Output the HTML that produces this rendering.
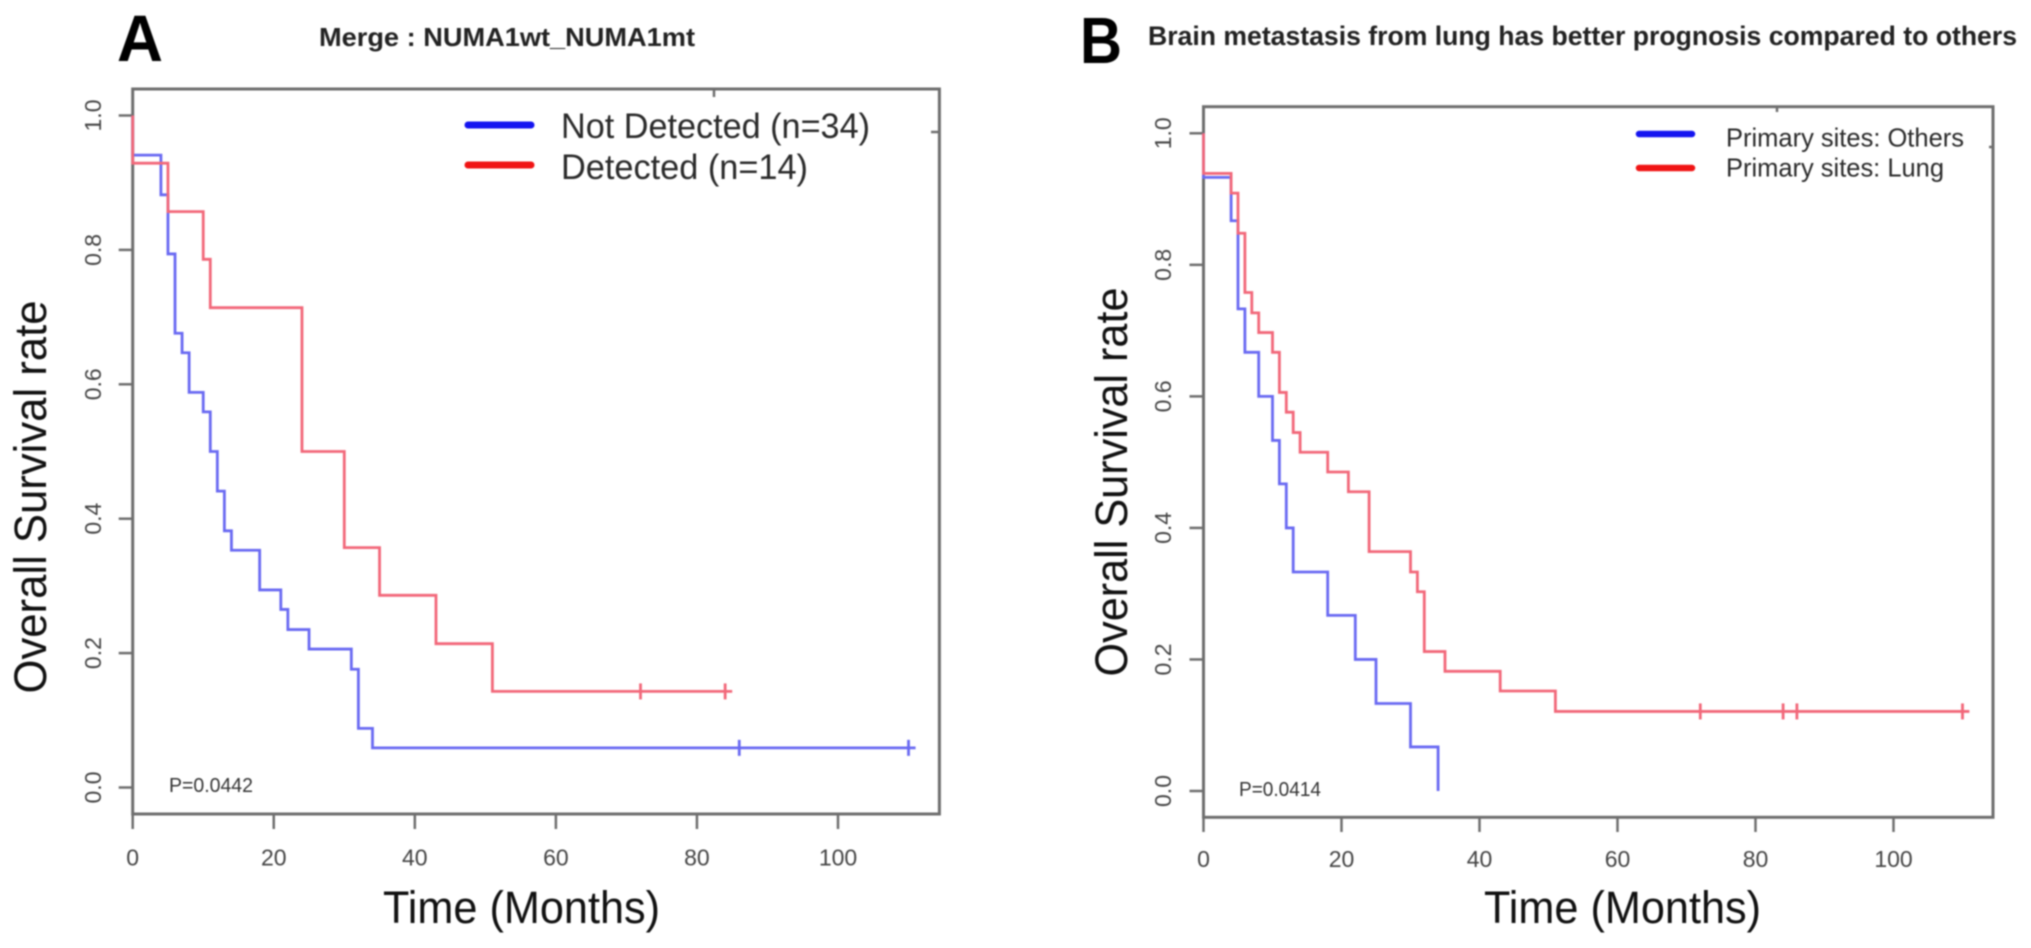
<!DOCTYPE html>
<html lang="en">
<head>
<meta charset="utf-8">
<title>Kaplan-Meier survival curves</title>
<style>
html,body{margin:0;padding:0;background:#fff;}
body{width:2031px;height:948px;overflow:hidden;}
svg{display:block;filter:blur(0.8px);}
text{font-family:"Liberation Sans",sans-serif;}
.frame{fill:none;stroke:#6e6e6e;stroke-width:3;}
.tick{stroke:#6e6e6e;stroke-width:2.5;fill:none;}
.ticklabel{font-size:23px;fill:#444;}
.axis-title{font-size:45px;fill:#111;}
.ptext{font-size:20px;fill:#333;}
.legend-text{fill:#2a2a2a;}
.curve{fill:none;stroke-width:2.8;stroke-linejoin:miter;}
.blue{stroke:#6a6af2;}
.red{stroke:#f2687a;}
</style>
</head>
<body>
<svg id="fig" width="2031" height="948" viewBox="0 0 2031 948" xmlns="http://www.w3.org/2000/svg">
  <text x="117" y="61" font-size="66" font-weight="bold" fill="#000" textLength="46" lengthAdjust="spacingAndGlyphs">A</text>
  <text x="319" y="46" font-size="26" font-weight="bold" fill="#222" textLength="376" lengthAdjust="spacingAndGlyphs">Merge : NUMA1wt_NUMA1mt</text>
  <text x="1080" y="63" font-size="65" font-weight="bold" fill="#000" textLength="42" lengthAdjust="spacingAndGlyphs">B</text>
  <text x="1148" y="45" font-size="27" font-weight="bold" fill="#222" textLength="869" lengthAdjust="spacingAndGlyphs">Brain metastasis from lung has better prognosis compared to others</text>

  <g id="panel-a">
    <rect class="frame" x="132.7" y="89" width="806.7" height="725"/>
    <path class="tick" d="M714 89V97M939 132H931"/>
    <text class="axis-title" transform="translate(46 497) rotate(-90)" text-anchor="middle" textLength="393" lengthAdjust="spacingAndGlyphs">Overall Survival rate</text>
    <text class="axis-title" x="521.5" y="923" text-anchor="middle" textLength="277" lengthAdjust="spacingAndGlyphs">Time (Months)</text>
    <text class="ptext" x="169" y="792" textLength="84" lengthAdjust="spacingAndGlyphs">P=0.0442</text>
    <g>
      <line x1="468" y1="125" x2="531" y2="125" stroke="#1414f0" stroke-width="7" stroke-linecap="round"/>
      <line x1="468" y1="165" x2="531" y2="165" stroke="#f01414" stroke-width="7" stroke-linecap="round"/>
      <text class="legend-text" x="561" y="138" font-size="35" textLength="309" lengthAdjust="spacingAndGlyphs">Not Detected (n=34)</text>
      <text class="legend-text" x="561" y="179" font-size="35" textLength="247" lengthAdjust="spacingAndGlyphs">Detected (n=14)</text>
    </g>
  </g>

  <g id="panel-b">
    <rect class="frame" x="1203.5" y="106.7" width="789.5" height="710.6"/>
    <path class="tick" d="M1777 107V112M1993 147H1989"/>
    <text class="axis-title" transform="translate(1127 482) rotate(-90)" text-anchor="middle" textLength="389" lengthAdjust="spacingAndGlyphs">Overall Survival rate</text>
    <text class="axis-title" x="1622.5" y="923" text-anchor="middle" textLength="277" lengthAdjust="spacingAndGlyphs">Time (Months)</text>
    <text class="ptext" x="1239" y="796" textLength="82" lengthAdjust="spacingAndGlyphs">P=0.0414</text>
    <g>
      <line x1="1639" y1="134" x2="1692" y2="134" stroke="#1414f0" stroke-width="6.5" stroke-linecap="round"/>
      <line x1="1639" y1="168" x2="1692" y2="168" stroke="#f01414" stroke-width="6.5" stroke-linecap="round"/>
      <text class="legend-text" x="1726" y="146.5" font-size="26" textLength="238" lengthAdjust="spacingAndGlyphs">Primary sites: Others</text>
      <text class="legend-text" x="1726" y="176.5" font-size="26" textLength="218" lengthAdjust="spacingAndGlyphs">Primary sites: Lung</text>
    </g>
  </g>
</svg>
<script>
var xTickValues = [0, 20, 40, 60, 80, 100];
var yTickValues = [0.0, 0.2, 0.4, 0.6, 0.8, 1.0];

var aBlueTimes = [0, 4, 5, 6, 7, 8, 10, 11, 12, 13, 14, 18, 21, 22, 25, 31, 32, 34];
var aBlueSurvival = [0.941, 0.882, 0.794, 0.676, 0.647, 0.588, 0.559, 0.5, 0.441, 0.382, 0.353, 0.294, 0.265, 0.235, 0.206, 0.176, 0.088, 0.059];
var aBlueCensor = [86, 110];

var aRedTimes = [0, 5, 10, 11, 24, 30, 35, 43, 51];
var aRedSurvival = [0.929, 0.857, 0.786, 0.714, 0.5, 0.357, 0.286, 0.214, 0.143];
var aRedCensor = [72, 84];

var bBlueTimes = [0, 4, 5, 6, 8, 10, 11, 12, 13, 18, 22, 25, 30, 34];
var bBlueSurvival = [0.933, 0.867, 0.733, 0.667, 0.6, 0.533, 0.467, 0.4, 0.333, 0.267, 0.2, 0.133, 0.067, 0.0];
var bBlueCensor = [];

var bRedTimes = [0, 4, 5, 6, 7, 8, 10, 11, 12, 13, 14, 18, 21, 24, 30, 31, 32, 35, 43, 51];
var bRedSurvival = [0.939, 0.909, 0.848, 0.758, 0.727, 0.697, 0.667, 0.606, 0.576, 0.545, 0.515, 0.485, 0.455, 0.364, 0.333, 0.303, 0.212, 0.182, 0.152, 0.121];
var bRedCensor = [72, 84, 86, 110];

var NS = 'http://www.w3.org/2000/svg';

function make(parent, tag, attrs, text) {
  var el = document.createElementNS(NS, tag);
  for (var k in attrs) el.setAttribute(k, attrs[k]);
  if (text !== undefined) el.textContent = text;
  parent.appendChild(el);
  return el;
}

function survivalAt(times, values, t) {
  var s = 1;
  for (var i = 0; i < times.length; i++) if (times[i] <= t) s = values[i];
  return s;
}

function drawCurve(group, xs, ys, times, values, censor, cls, label) {
  var last = censor.length ? censor[censor.length - 1] + 1 : times[times.length - 1];
  var d = 'M' + xs(0) + ' ' + ys(1);
  for (var i = 0; i < times.length; i++) {
    d += 'H' + xs(times[i]) + 'V' + ys(values[i]);
  }
  d += 'H' + xs(last);
  var path = make(group, 'path', { 'class': 'curve ' + cls, d: d });
  
  
  censor.forEach(function (t) {
    var y = ys(survivalAt(times, values, t));
    var mark = make(group, 'line', { 'class': 'curve ' + cls, x1: xs(t), x2: xs(t), y1: y - 8, y2: y + 8 });
    
    
  });
}

function drawAxes(group, xs, ys, axisY, tickBottom, frameLeft, labelX, labelBaseline, panel) {
  xTickValues.forEach(function (v) {
    var tick = make(group, 'line', { 'class': 'tick', x1: xs(v), x2: xs(v), y1: axisY, y2: tickBottom });
    
    
    var label = make(group, 'text', { 'class': 'ticklabel', x: xs(v), y: labelBaseline, 'text-anchor': 'middle' }, String(v));
    
    
  });
  yTickValues.forEach(function (v) {
    var tick = make(group, 'line', { 'class': 'tick', x1: frameLeft - 14, x2: frameLeft, y1: ys(v), y2: ys(v) });
    
    
    var label = make(group, 'text', { 'class': 'ticklabel', transform: 'translate(' + labelX + ' ' + ys(v) + ') rotate(-90)', 'text-anchor': 'middle' }, v.toFixed(1));
    
    
  });
}

var ax = function (t) { return 132.7 + t * 7.053; };
var ay = function (s) { return 787.5 - s * 672; };
var bx = function (t) { return 1203.5 + t * 6.9; };
var by = function (s) { return 791 - s * 657.7; };

var gA = document.getElementById('panel-a');
var gB = document.getElementById('panel-b');

drawAxes(gA, ax, ay, 814, 829, 132.7, 101, 865.5, 'panel-a');
drawAxes(gB, bx, by, 817.3, 832, 1203.5, 1171, 867, 'panel-b');

drawCurve(gA, ax, ay, aBlueTimes, aBlueSurvival, aBlueCensor, 'blue', 'not-detected');
drawCurve(gA, ax, ay, aRedTimes, aRedSurvival, aRedCensor, 'red', 'detected');
drawCurve(gB, bx, by, bBlueTimes, bBlueSurvival, bBlueCensor, 'blue', 'primary-others');
drawCurve(gB, bx, by, bRedTimes, bRedSurvival, bRedCensor, 'red', 'primary-lung');
</script>
</body>
</html>
